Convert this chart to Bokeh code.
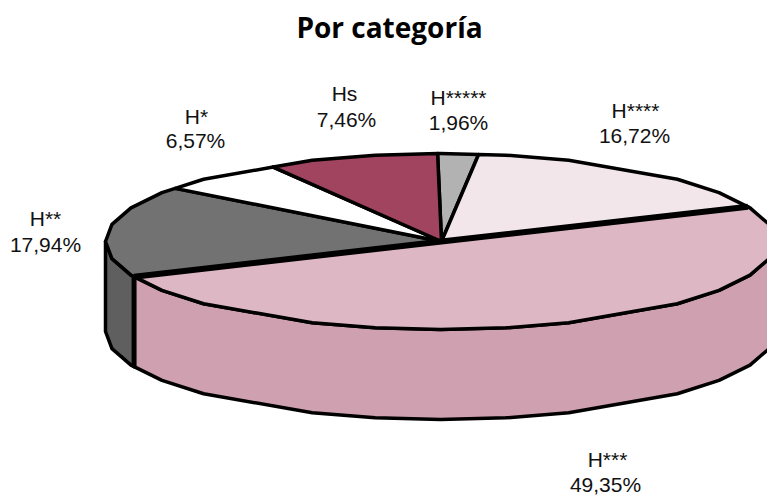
import numpy as np
from bokeh.plotting import figure
from bokeh.models import Range1d
from bokeh.core.properties import value
from bokeh.embed import file_html
from bokeh.resources import INLINE

title_text = "Por categoría"
categories = ["H*****", "H****", "H***", "H**", "H*", "Hs"]
percent_labels = ["1,96%", "16,72%", "49,35%", "17,94%", "6,57%", "7,46%"]
# Printed shares, for reference: 1.96, 16.72, 49.35, 17.94, 6.57, 7.46.
# Slice sizes as actually drawn in the picture, which differ slightly from the
# printed percentages on the left side of the reference pie.
drawn_shares = [1.96, 16.72, 49.9, 16.93, 6.13, 8.36]
top_colors = ["#B2B2B2", "#F2E6EB", "#DDB8C4", "#727272", "#FFFFFF", "#A0445F"]
side_colors = {"H***": "#CFA0AF", "H**": "#5F5F5F"}

# layout (pixels)
W, H = 767, 499
CX, CY, RX, RY, DEPTH = 440.0, 241.0, 335.0, 88.0, 90.0
START = -0.5
STEP = 11.25
SKIP = {33.75, 146.25, 213.75, 326.25}
NAME_XY = [(458, 97), (635, 110), (607, 459), (45, 218), (196, 116), (344, 93)]
PCT_XY = [(458, 122), (634, 135), (605, 484), (45, 244), (195, 140), (346, 119)]

grid = [a for a in np.arange(-STEP * 8, 360 + STEP, STEP) if (a % 360) not in SKIP]


def pt(a):
    r = np.radians(a)
    return CX + RX * np.sin(r), CY - RY * np.cos(r)


def edge_point(a):
    lo = max(g for g in grid if g <= a)
    hi = min(g for g in grid if g >= a)
    if lo == hi:
        return pt(a)
    f = (a - lo) / (hi - lo)
    x0, y0 = pt(lo)
    x1, y1 = pt(hi)
    return x0 + f * (x1 - x0), y0 + f * (y1 - y0)


def arc(a0, a1):
    inner = [g for g in grid if a0 < g < a1]
    return [edge_point(a0)] + [pt(g) for g in inner] + [edge_point(a1)]


p = figure(width=W, height=H, output_backend="svg", toolbar_location=None,
           x_range=Range1d(0, W), y_range=Range1d(H, 0), min_border=0)
p.axis.visible = False
p.grid.visible = False
p.outline_line_color = None
p.background_fill_color = "white"

cum = np.cumsum([0] + drawn_shares) * 3.6 + START
bounds = list(zip(cum[:-1], cum[1:]))

# side walls
for name, (a0, a1) in zip(categories, bounds):
    if name in side_colors:
        lo, hi = max(a0, 90.0), min(a1, 270.0)
        e = arc(lo, hi)
        xs = [q[0] for q in e] + [q[0] for q in e[::-1]]
        ys = [q[1] for q in e] + [q[1] + DEPTH for q in e[::-1]]
        p.patch(xs, ys, fill_color=side_colors[name], line_color="black",
                line_width=3.5, line_join="round")

# top faces
for name, col, (a0, a1) in zip(categories, top_colors, bounds):
    e = arc(a0, a1)
    xs = [CX + 1] + [q[0] for q in e]
    ys = [CY] + [q[1] for q in e]
    p.patch(xs, ys, fill_color=col, line_color="black", line_width=3.5, line_join="round")

# heavy edges of the largest slice
a0, a1 = bounds[categories.index("H***")]
p0, p1 = edge_point(a0), edge_point(a1)
p.line([p0[0], CX + 1, p1[0]], [p0[1], CY, p1[1]], line_color="black", line_width=6)
p.line([p1[0], p1[0]], [p1[1], p1[1] + DEPTH], line_color="black", line_width=5)

# texts
p.text([389], [26], text=[title_text], text_font=value("Open Sans"), text_font_style="bold",
       text_font_size="28px", text_align="center", text_baseline="middle", text_color="black")
for nm, pc, a, b in zip(categories, percent_labels, NAME_XY, PCT_XY):
    p.text([a[0]], [a[1]], text=[nm], text_font=value("Liberation Sans"), text_font_size="21px",
           text_align="center", text_baseline="middle", text_color="#111111")
    p.text([b[0]], [b[1]], text=[pc], text_font=value("Liberation Sans"), text_font_size="21px",
           text_align="center", text_baseline="middle", text_color="#111111")

open("out.html", "w").write(file_html(p, INLINE))
